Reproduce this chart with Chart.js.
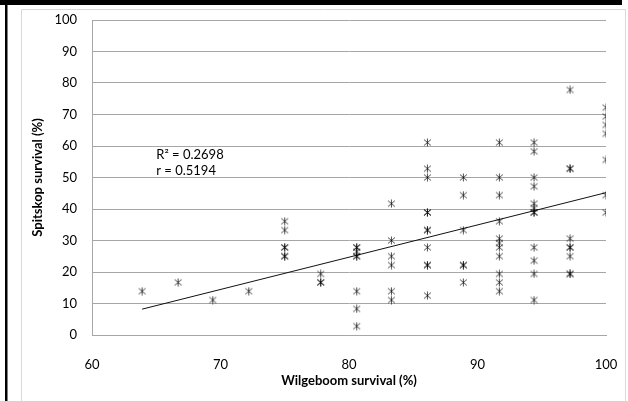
<!DOCTYPE html>
<html><head><meta charset="utf-8">
<script src="https://cdn.jsdelivr.net/npm/chart.js@4.4.1/dist/chart.umd.min.js"></script>
<style>html,body{margin:0;padding:0;background:#fff;}#wrap{width:628px;height:401px;position:relative;}</style>
</head><body><div id="wrap"><canvas id="c" width="628" height="401"></canvas></div>
<script>
// Wilgeboom survival (%) — x values, one per plotted point
const wilgeboom = [
  63.9, 66.7, 69.4, 72.2,
  75, 75, 75, 75, 75, 75,
  77.8, 77.8, 77.8,
  80.6, 80.6, 80.6, 80.6, 80.6, 80.6, 80.6, 80.6,
  83.3, 83.3, 83.3, 83.3, 83.3, 83.3,
  86.1, 86.1, 86.1, 86.1, 86.1, 86.1, 86.1, 86.1, 86.1, 86.1, 86.1,
  88.9, 88.9, 88.9, 88.9, 88.9, 88.9,
  91.7, 91.7, 91.7, 91.7, 91.7, 91.7, 91.7, 91.7, 91.7, 91.7, 91.7,
  94.4, 94.4, 94.4, 94.4, 94.4, 94.4, 94.4, 94.4, 94.4, 94.4, 94.4, 94.4,
  97.2, 97.2, 97.2, 97.2, 97.2, 97.2, 97.2, 97.2, 97.2,
  100, 100, 100, 100, 100, 100, 100
];
// Spitskop survival (%) — y values, same order
const spitskop = [
  13.9, 16.7, 11.1, 13.9,
  36.1, 33.3, 27.8, 27.8, 25.0, 25.0,
  19.4, 16.7, 16.7,
  27.8, 27.8, 26.4, 25.0, 25.0, 13.9, 8.3, 2.8,
  41.7, 30.0, 25.0, 22.2, 13.9, 11.1,
  61.1, 52.8, 50.0, 38.9, 38.9, 33.3, 33.3, 27.8, 22.2, 22.2, 12.5,
  50.0, 44.4, 33.3, 22.2, 22.2, 16.7,
  61.1, 50.0, 44.4, 36.1, 30.6, 29.2, 27.8, 25.0, 19.4, 16.7, 13.9,
  61.1, 58.3, 50.0, 47.2, 41.7, 40.3, 38.9, 38.9, 27.8, 23.6, 19.4, 11.1,
  77.8, 52.8, 52.8, 30.6, 27.8, 27.8, 25.0, 19.4, 19.4,
  72.2, 69.4, 66.7, 63.9, 55.6, 44.4, 38.9
];
const xTickValues = [60, 70, 80, 90, 100];
const yTickValues = [0, 10, 20, 30, 40, 50, 60, 70, 80, 90, 100];
const xTitle = 'Wilgeboom survival (%)';
const yTitle = 'Spitskop survival (%)';
const statLabels = ['R² = 0.2698', 'r = 0.5194'];
const statAnchor = {x: 65.0, y: [57.3, 52.2]};

// least-squares trendline from the data
function linearFit(xs, ys) {
  const n = xs.length;
  let sx = 0, sy = 0, sxx = 0, sxy = 0;
  for (let i = 0; i < n; i++) { sx += xs[i]; sy += ys[i]; sxx += xs[i]*xs[i]; sxy += xs[i]*ys[i]; }
  const m = (n*sxy - sx*sy) / (n*sxx - sx*sx);
  return {m, b: (sy - m*sx) / n};
}
const fit = linearFit(wilgeboom, spitskop);
const xMin = Math.min(...wilgeboom), xMax = Math.max(...wilgeboom);
const trend = [{x: xMin, y: fit.m*xMin + fit.b}, {x: xMax, y: fit.m*xMax + fit.b}];

// asterisk marker (Excel "star"): X plus vertical stroke
const mk = document.createElement('canvas');
mk.width = 9; mk.height = 9;
(function(){
  const g = mk.getContext('2d');
  g.strokeStyle = 'rgba(0,0,0,0.7)';
  g.lineWidth = 1;
  g.beginPath();
  g.moveTo(1, 1.5); g.lineTo(8, 7.5);
  g.moveTo(8, 1.5); g.lineTo(1, 7.5);
  g.moveTo(4.5, 0.5); g.lineTo(4.5, 8.5);
  g.stroke();
})();

const FONT = 'Lato, "Open Sans", sans-serif';

const framePlugin = {
  id: 'frame',
  beforeDraw(chart) {
    const ctx = chart.ctx;
    ctx.save();
    ctx.fillStyle = '#fff';
    ctx.fillRect(0, 0, chart.width, chart.height);
    ctx.strokeStyle = '#d9d9d9';
    ctx.lineWidth = 1;
    ctx.beginPath();
    ctx.moveTo(21.5, 401); ctx.lineTo(21.5, 9.5); ctx.lineTo(625.5, 9.5); ctx.lineTo(625.5, 401);
    ctx.stroke();
    ctx.fillStyle = '#000';
    ctx.fillRect(0, 0, 622, 5);
    ctx.fillRect(5, 0, 2.5, 401);
    ctx.restore();
  }
};

const statPlugin = {
  id: 'stats',
  afterDatasetsDraw(chart) {
    const ctx = chart.ctx, xs = chart.scales.x, ys = chart.scales.y;
    ctx.save();
    ctx.font = '13px ' + FONT;
    ctx.fillStyle = '#000';
    ctx.textAlign = 'left';
    ctx.textBaseline = 'middle';
    statLabels.forEach((t, i) => {
      ctx.fillText(t, xs.getPixelForValue(statAnchor.x), ys.getPixelForValue(statAnchor.y[i]));
    });
    ctx.restore();
  }
};

new Chart(document.getElementById('c'), {
  type: 'scatter',
  data: {
    datasets: [
      {
        label: 'Survival',
        data: wilgeboom.map((x, i) => ({x, y: spitskop[i]})),
        pointStyle: mk,
        pointRadius: 4.5,
        pointHoverRadius: 4.5
      },
      {
        type: 'line',
        label: 'Trend',
        data: trend,
        showLine: true,
        borderColor: '#111',
        borderWidth: 1,
        pointRadius: 0,
        fill: false
      }
    ]
  },
  options: {
    responsive: false,
    animation: false,
    devicePixelRatio: 1,
    layout: {padding: {left: 0, right: 22, top: 20, bottom: 0}},
    plugins: {legend: {display: false}, tooltip: {enabled: false}},
    scales: {
      x: {
        type: 'linear',
        min: 60, max: 100,
        afterFit: s => { s.height = 66; },
        afterBuildTicks: s => { s.ticks = xTickValues.map(v => ({value: v})); },
        ticks: {font: {family: FONT, size: 13}, color: '#000', padding: 3, maxRotation: 0},
        grid: {display: false, drawTicks: true, tickLength: 19},
        border: {display: true, color: '#a6a6a6'},
        title: {display: true, text: xTitle, font: {family: FONT, size: 13, weight: 'bold'}, color: '#000', padding: {top: 0, bottom: 12}}
      },
      y: {
        type: 'linear',
        min: 0, max: 100,
        afterFit: s => { s.width = 92; },
        afterBuildTicks: s => { s.ticks = yTickValues.map(v => ({value: v})); },
        ticks: {font: {family: FONT, size: 13}, color: '#000', padding: 3},
        grid: {color: '#a6a6a6', drawTicks: true, tickLength: 12, tickColor: 'rgba(0,0,0,0)'},
        border: {display: true, color: '#a6a6a6'},
        title: {display: true, text: yTitle, font: {family: FONT, size: 13, weight: 'bold'}, color: '#000', padding: {top: 30, bottom: 0}}
      }
    }
  },
  plugins: [framePlugin, statPlugin]
});
</script></body></html>
